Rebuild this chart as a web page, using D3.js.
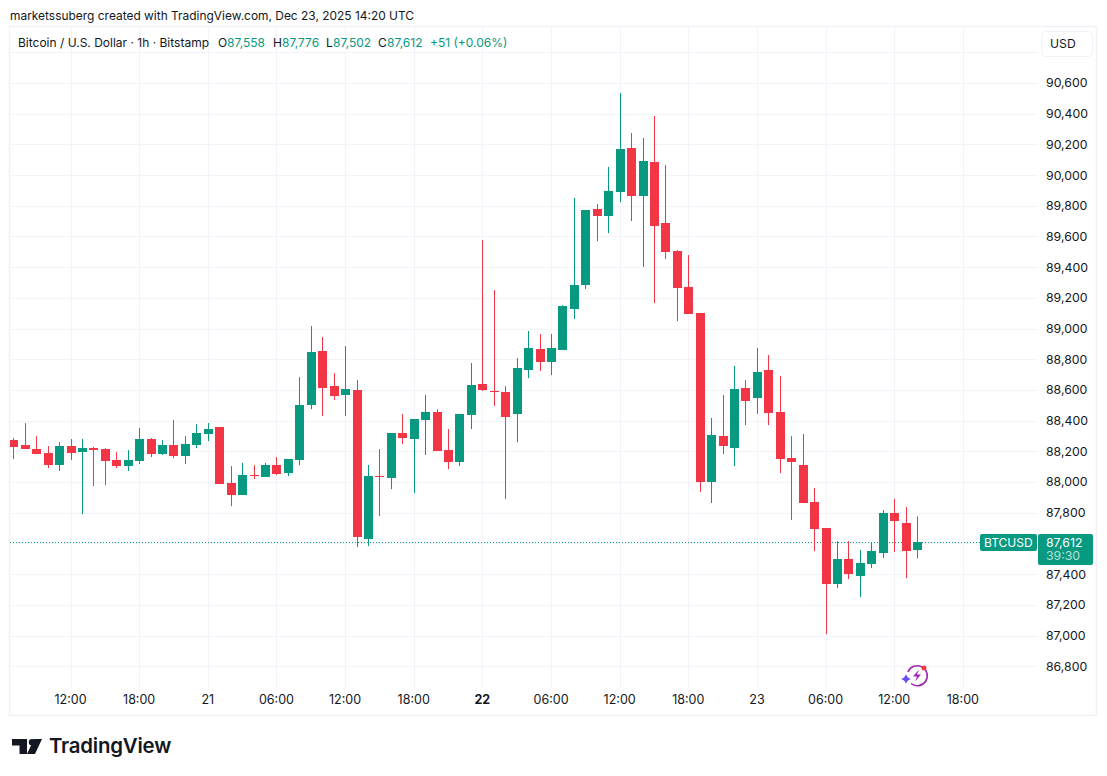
<!DOCTYPE html>
<html>
<head>
<meta charset="utf-8">
<script src="https://cdn.jsdelivr.net/npm/d3@7"></script>
<style>
  html, body { margin: 0; padding: 0; background: #fff; }
  svg { display: block; }
  text { font-family: Inter, "Noto Sans", sans-serif; }
</style>
</head>
<body>
<script>
// hourly BTCUSD bars, first one is Dec 20 07:00 UTC
var firstBar = Date.UTC(2025, 11, 20, 7),
    lastBar = Date.UTC(2025, 11, 23, 14);

var opens = [88273,88241,88215,88189,88110,88234,88195,88221,88215,88143,88104,88137,88280,88182,88241,88169,88241,88312,88358,87993,
  87915,88045,88032,88110,88058,88143,88502,88853,88625,88567,88599,87628,88039,88026,88319,88280,88404,88456,88208,88130,
  88436,88638,88593,88586,88443,88730,88866,88782,88860,89127,89284,89779,89733,89890,90176,89864,90085,89688,89505,89271,
  89101,88000,88299,88221,88612,88547,88730,88456,88156,88111,87869,87700,87335,87498,87387,87465,87537,87798,87733,87558];
var highs = [88286,88384,88299,88234,88260,88280,88280,88228,88221,88195,88208,88352,88286,88273,88404,88299,88378,88384,88358,88104,
  88124,88110,88124,88163,88150,88684,89016,88945,88710,88886,88664,88111,88215,88319,88443,88410,88567,88475,88345,88443,
  88775,89577,89251,88625,88808,88984,88964,88964,89153,89851,89772,89811,90053,90535,90274,90242,90385,90066,89511,89479,
  89101,88417,88567,88756,88664,88873,88827,88691,88299,88313,87961,87700,87615,87615,87557,87609,87817,87889,87837,87776];
var lows = [88150,88215,88182,88091,88071,88143,87791,87974,87980,88091,88071,88117,88163,88176,88156,88117,88221,88267,87987,87843,
  87915,88019,88032,88045,88039,88110,88475,88430,88534,88430,87576,87583,87778,87954,88247,87928,88176,88202,88084,88104,
  88345,88593,88495,87889,88260,88677,88723,88697,88860,89062,89258,89570,89622,89824,89701,89401,89166,89453,89049,89095,
  87935,87863,88182,88104,88371,88443,88371,88058,87752,87863,87550,87009,87309,87368,87250,87439,87504,87544,87374,87502];
var closes = [88230,88215,88182,88110,88234,88189,88221,88208,88137,88104,88143,88280,88182,88241,88169,88247,88319,88345,87987,87915,
  88045,88039,88110,88052,88150,88502,88847,88612,88560,88606,87641,88039,88032,88319,88287,88410,88456,88202,88130,88443,
  88632,88599,88586,88423,88743,88873,88782,88873,89147,89284,89772,89733,89896,90170,89864,90092,89668,89499,89264,89095,
  88000,88306,88234,88606,88528,88717,88449,88150,88130,87863,87693,87335,87498,87400,87472,87550,87798,87746,87550,87612];

var priceTicks = [86800,87000,87200,87400,87600,87800,88000,88200,88400,88600,88800,89000,89200,89400,89600,89800,90000,90200,90400,90600,90800];
var priceLabels = [86800,87000,87200,87400,87800,88000,88200,88400,88600,88800,89000,89200,89400,89600,89800,90000,90200,90400,90600];

var timeTicks = [
  Date.UTC(2025,11,20,12), Date.UTC(2025,11,20,18), Date.UTC(2025,11,21,0), Date.UTC(2025,11,21,6),
  Date.UTC(2025,11,21,12), Date.UTC(2025,11,21,18), Date.UTC(2025,11,22,0), Date.UTC(2025,11,22,6),
  Date.UTC(2025,11,22,12), Date.UTC(2025,11,22,18), Date.UTC(2025,11,23,0), Date.UTC(2025,11,23,6),
  Date.UTC(2025,11,23,12), Date.UTC(2025,11,23,18)
];
var timeLabels = ["12:00","18:00","21","06:00","12:00","18:00","22","06:00","12:00","18:00","23","06:00","12:00","18:00"];

var lastPrice = 87612;
var legendParts = [
  {t: "O", x: 218, up: false}, {t: "87,558", x: 227, up: true},
  {t: "H", x: 273, up: false}, {t: "87,776", x: 282, up: true},
  {t: "L", x: 326, up: false}, {t: "87,502", x: 333, up: true},
  {t: "C", x: 378, up: false}, {t: "87,612", x: 387, up: true},
  {t: "+51 (+0.06%)", x: 430, up: true}
];

var upColor = "#089981",
    downColor = "#f23645",
    gridColor = "#f2f4f9",
    textColor = "#131722";

var chartLeft = 10, chartRight = 1037, chartTop = 27, chartBottom = 688;

var svg = d3.select("body").append("svg")
  .attr("width", 1107)
  .attr("height", 776);

var x = d3.scaleUtc()
  .domain([firstBar, lastBar])
  .range([13.8, 917.6]);

var y = d3.scaleLinear()
  .domain([86800, 90600])
  .range([666.2, 83]);

// frame around the chart
svg.append("rect")
  .attr("x", chartLeft - 0.5).attr("y", chartTop - 0.5)
  .attr("width", 1097 - chartLeft).attr("height", 716 - chartTop)
  .attr("fill", "none")
  .attr("stroke", "#f0f2f7")
  .attr("stroke-width", 1.5);

var clip = svg.append("clipPath").attr("id", "plot")
  .append("rect")
  .attr("x", chartLeft).attr("y", chartTop)
  .attr("width", chartRight - chartLeft).attr("height", chartBottom - chartTop);

// gridlines
svg.append("g").selectAll("line")
  .data(priceTicks)
  .join("line")
  .attr("x1", chartLeft).attr("x2", chartRight)
  .attr("y1", function(d) { return Math.round(y(d)) + 0.5; })
  .attr("y2", function(d) { return Math.round(y(d)) + 0.5; })
  .attr("stroke", gridColor);

svg.append("g").selectAll("line")
  .data(timeTicks)
  .join("line")
  .attr("x1", function(d) { return Math.floor(x(d)) + 0.5; })
  .attr("x2", function(d) { return Math.floor(x(d)) + 0.5; })
  .attr("y1", chartTop).attr("y2", chartBottom)
  .attr("stroke", gridColor);

// last price dotted line
svg.append("line")
  .attr("x1", chartLeft).attr("x2", 980)
  .attr("y1", Math.round(y(lastPrice)) + 0.5)
  .attr("y2", Math.round(y(lastPrice)) + 0.5)
  .attr("stroke", upColor)
  .attr("stroke-dasharray", "1 2");

// candles
var bars = d3.range(opens.length);
var barG = svg.append("g").attr("clip-path", "url(#plot)");

function barX(i) {
  return Math.floor(x(firstBar + i * 3600000));
}
function barColor(i) {
  return closes[i] >= opens[i] ? upColor : downColor;
}

barG.selectAll("line")
  .data(bars)
  .join("line")
  .attr("x1", function(i) { return barX(i) + 0.5; })
  .attr("x2", function(i) { return barX(i) + 0.5; })
  .attr("y1", function(i) { return y(highs[i]); })
  .attr("y2", function(i) { return y(lows[i]); })
  .attr("stroke", barColor);

barG.selectAll("rect")
  .data(bars)
  .join("rect")
  .attr("x", function(i) { return barX(i) - 4; })
  .attr("width", 9)
  .attr("y", function(i) { return Math.round(y(Math.max(opens[i], closes[i]))); })
  .attr("height", function(i) {
    return Math.max(1, Math.round(y(Math.min(opens[i], closes[i]))) - Math.round(y(Math.max(opens[i], closes[i]))));
  })
  .attr("fill", barColor);

// axes
var priceAxis = d3.axisRight(y)
  .tickValues(priceLabels)
  .tickSize(0)
  .tickPadding(0)
  .tickFormat(d3.format(","));

var timeAxis = d3.axisBottom(x)
  .tickValues(timeTicks)
  .tickSize(0)
  .tickPadding(0)
  .tickFormat(function(d, i) { return timeLabels[i]; });

var priceG = svg.append("g")
  .attr("transform", "translate(1046,0)")
  .call(priceAxis);
priceG.select(".domain").remove();
priceG.selectAll("text")
  .attr("font-family", "Inter")
  .attr("font-size", 12.3)
  .attr("fill", textColor);

var timeG = svg.append("g")
  .attr("transform", "translate(-1,695)")
  .call(timeAxis);
timeG.select(".domain").remove();
timeG.selectAll("text")
  .attr("font-family", "Inter")
  .attr("font-size", 12.5)
  .attr("fill", textColor)
  .attr("font-weight", function(d, i) { return timeLabels[i] == "22" ? 700 : 400; });

// header and legend
svg.append("text")
  .attr("x", 10).attr("y", 20)
  .attr("font-size", 11.95)
  .attr("fill", textColor)
  .text("marketssuberg created with TradingView.com, Dec 23, 2025 14:20 UTC");

svg.append("text")
  .attr("x", 18).attr("y", 47)
  .attr("font-size", 12)
  .attr("fill", textColor)
  .text("Bitcoin / U.S. Dollar · 1h · Bitstamp");

svg.append("g").selectAll("text")
  .data(legendParts)
  .join("text")
  .attr("x", function(d) { return d.x; })
  .attr("y", 47)
  .attr("font-size", 12)
  .attr("fill", function(d) { return d.up ? upColor : textColor; })
  .text(function(d) { return d.t; });

// currency button
svg.append("rect")
  .attr("x", 1041.5).attr("y", 31.5)
  .attr("width", 51).attr("height", 25)
  .attr("rx", 4)
  .attr("fill", "#fff")
  .attr("stroke", "#f0f2f7");
svg.append("text")
  .attr("x", 1050).attr("y", 48)
  .attr("font-size", 12.2)
  .attr("fill", textColor)
  .text("USD");

// last price labels
var lastY = Math.round(y(lastPrice));
svg.append("rect")
  .attr("x", 980).attr("y", lastY - 8)
  .attr("width", 57).attr("height", 17)
  .attr("rx", 2)
  .attr("fill", upColor);
svg.append("text")
  .attr("x", 984).attr("y", lastY + 5)
  .attr("font-size", 12)
  .attr("fill", "#fff")
  .text("BTCUSD");
svg.append("rect")
  .attr("x", 1038).attr("y", lastY - 8)
  .attr("width", 55).attr("height", 31)
  .attr("rx", 2)
  .attr("fill", upColor);
svg.append("text")
  .attr("x", 1046).attr("y", lastY + 5)
  .attr("font-size", 12.3)
  .attr("fill", "#fff")
  .text("87,612");
svg.append("text")
  .attr("x", 1046).attr("y", lastY + 18)
  .attr("font-size", 12.3)
  .attr("fill", "#b5e0d8")
  .text("39:30");

// assistant badge
var badge = svg.append("g").attr("transform", "translate(917,675.5)");
badge.append("path")
  .attr("d", "M-9,-3.5 A10,10 0 1 1 -6,8")
  .attr("fill", "none")
  .attr("stroke", "#9c27b0")
  .attr("stroke-width", 1.6);
badge.append("path")
  .attr("d", "M2,-6 L-4,1 L0,1 L-2,6 L4,-1 L0,-1 Z")
  .attr("fill", "#9c27b0");
badge.append("path")
  .attr("d", "M-11,-1.5 Q-10,2.5 -6,3.5 Q-10,4.5 -11,8.5 Q-12,4.5 -16,3.5 Q-12,2.5 -11,-1.5 Z")
  .attr("fill", "#6a4cf5");
badge.append("circle")
  .attr("cx", 7).attr("cy", -7.5).attr("r", 2.5)
  .attr("fill", "#f23645");

// brand logo
var logo = svg.append("g").attr("transform", "translate(12,739)").attr("fill", "#131722");
logo.append("path").attr("d", "M0,0 H15 V15 H7.5 V6.5 H0 Z");
logo.append("circle").attr("cx", 20).attr("cy", 3.2).attr("r", 3.2);
logo.append("path").attr("d", "M23,15 L15,15 L22,0 L30,0 Z");
svg.append("text")
  .attr("x", 49).attr("y", 753)
  .attr("font-size", 20.4)
  .attr("font-weight", 600)
  .attr("letter-spacing", -0.2)
  .attr("fill", "#131722")
  .text("TradingView");
</script>
</body>
</html>
